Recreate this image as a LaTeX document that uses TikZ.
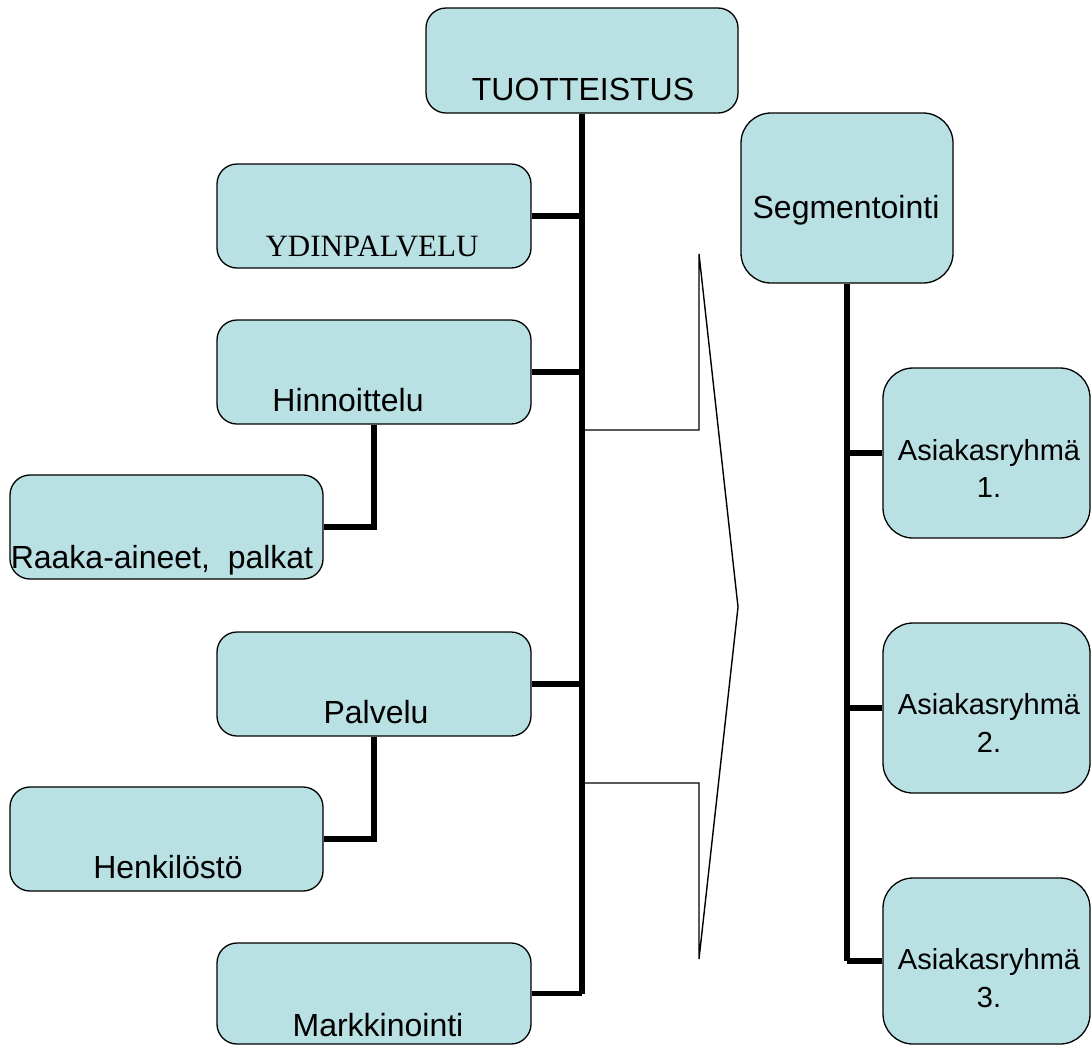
\documentclass[tikz,border=0pt]{standalone}
\usepackage{fontspec}
\setmainfont{Liberation Sans}
\newfontfamily\serifface{Liberation Serif}
\definecolor{boxfill}{RGB}{185,224,226}
\tikzset{
  box/.style={draw=black, line width=1.3pt, fill=boxfill, rounded corners=#1, inner sep=0pt},
  box/.default=20pt,
  txt/.style={anchor=base, inner sep=0pt, font=\fontsize{32}{38}\selectfont},
  stxt/.style={anchor=base, inner sep=0pt, font=\fontsize{29}{35}\selectfont},
  conn/.style={line width=5.5pt},
  thin/.style={line width=1.4pt}
}
\begin{document}
\begin{tikzpicture}[x=1pt,y=-1pt]
\useasboundingbox (0,0) rectangle (1091,1045);
% boxes
\node[box, minimum width=312, minimum height=105] (tuo) at (582,60.5) {};
\node[box, minimum width=314, minimum height=104] (ydin) at (374,216) {};
\node[box, minimum width=314, minimum height=104] (hinn) at (374,372) {};
\node[box, minimum width=313, minimum height=104] (raaka) at (166.5,527) {};
\node[box, minimum width=314, minimum height=104] (palv) at (374,684) {};
\node[box, minimum width=313, minimum height=104] (henk) at (166.5,839) {};
\node[box, minimum width=314, minimum height=101] (mark) at (374,993.5) {};
\node[box=30pt, minimum width=212, minimum height=170] (seg) at (847,198) {};
\node[box=30pt, minimum width=207, minimum height=170] (a1) at (986.5,453) {};
\node[box=30pt, minimum width=207, minimum height=170] (a2) at (986.5,708) {};
\node[box=30pt, minimum width=207, minimum height=166] (a3) at (986.5,961) {};
% texts
\node[txt] (tuo-t) at (583,100) {TUOTTEISTUS};
\node[txt, font=\serifface\fontsize{31}{37}\selectfont] (ydin-t) at (372,256) {YDINPALVELU};
\node[txt] (hinn-t) at (348,411) {Hinnoittelu};
\node[txt] (raaka-t) at (162,568) {Raaka-aineet,\ \ palkat};
\node[txt] (palv-t) at (376,723) {Palvelu};
\node[txt] (henk-t) at (168,878) {Henkilöstö};
\node[txt] (mark-t) at (378,1036) {Markkinointi};
\node[txt] (seg-t) at (846,218) {Segmentointi};
\node[stxt] (a1-t) at (989,460) {Asiakasryhmä};
\node[stxt] (a1-n) at (989,497) {1.};
\node[stxt] (a2-t) at (989,714) {Asiakasryhmä};
\node[stxt] (a2-n) at (989,752) {2.};
\node[stxt] (a3-t) at (989,969) {Asiakasryhmä};
\node[stxt] (a3-n) at (989,1007) {3.};
% thick connectors
\draw[conn] (tuo.south) -- (tuo.south |- mark.east);
\draw[conn] (ydin.east) -- (ydin.east -| tuo.south);
\draw[conn] (hinn.east) -- (hinn.east -| tuo.south);
\draw[conn] (palv.east) -- (palv.east -| tuo.south);
\draw[conn] (mark.east) -- (mark.east -| tuo.south);
\draw[conn] (hinn.south) |- (raaka.east);
\draw[conn] (palv.south) |- (henk.east);
\draw[conn] (seg.south) -- (seg.south |- a3.west);
\draw[conn] (a1.west) -- (a1.west -| seg.south);
\draw[conn] (a2.west) -- (a2.west -| seg.south);
\draw[conn] (a3.west) -- (a3.west -| seg.south);
% thin chevron outline
\coordinate (c1) at (582,430);
\coordinate (c2) at (699,430);
\coordinate (c3) at (699,254);
\coordinate (c4) at (738,607);
\coordinate (c5) at (699,959);
\coordinate (c6) at (699,783);
\coordinate (c7) at (582,783);
\draw[thin] (c1) -- (c2) -- (c3) -- (c4) -- (c5) -- (c6) -- (c7);
\end{tikzpicture}
\end{document}
